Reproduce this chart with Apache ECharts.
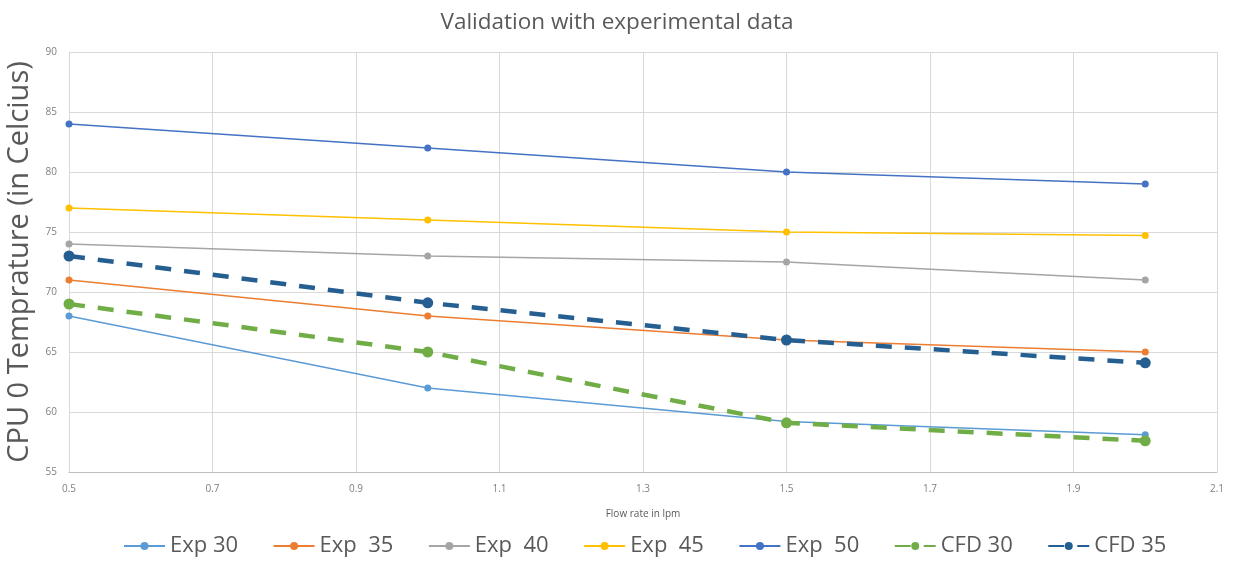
<!DOCTYPE html>
<html>
<head>
<meta charset="utf-8">
<script src="https://cdn.jsdelivr.net/npm/echarts@6/dist/echarts.min.js"></script>
<style>
html,body{margin:0;padding:0;background:#fff;}
#c{width:1233px;height:564px;}
</style>
</head>
<body>
<div id="c"></div>
<script>
const flowRates = [0.5, 1.0, 1.5, 2.0];
const exp30 = [68, 62, 59.2, 58.1];
const exp35 = [71, 68, 66, 65];
const exp40 = [74, 73, 72.5, 71];
const exp45 = [77, 76, 75, 74.7];
const exp50 = [84, 82, 80, 79];
const cfd30 = [69, 65, 59.1, 57.6];
const cfd35 = [73, 69.1, 66, 64.1];
const seriesNames = ['Exp 30', 'Exp  35', 'Exp  40', 'Exp  45', 'Exp  50', 'CFD 30', 'CFD 35'];
const seriesColors = ['#5B9BD5', '#ED7D31', '#A5A5A5', '#FFC000', '#4472C4', '#70AD47', '#255E91'];
const seriesValues = [exp30, exp35, exp40, exp45, exp50, cfd30, cfd35];

const font = 'Open Sans';
const series = seriesValues.map((vals, i) => {
  const isCfd = i >= 5;
  return {
    name: seriesNames[i],
    type: 'line',
    data: flowRates.map((x, j) => [x, vals[j]]),
    symbol: 'circle',
    symbolSize: isCfd ? 11 : 7,
    itemStyle: { color: seriesColors[i] },
    lineStyle: {
      color: seriesColors[i],
      width: isCfd ? 4.5 : 1.5,
      type: isCfd ? [16, 13] : 'solid'
    },
    z: isCfd ? 3 : 2
  };
});

const chart = echarts.init(document.getElementById('c'), null, { renderer: 'canvas' });
chart.setOption({
  animation: false,
  backgroundColor: '#fff',
  title: {
    text: 'Validation with experimental data',
    left: 612, top: 6, textAlign: 'center',
    textStyle: { fontFamily: font, fontSize: 22.5, fontWeight: 'normal', color: '#595959' }
  },
  grid: { left: 69, right: 16, top: 52, bottom: 92, containLabel: false, outerBoundsMode: 'none' },
  legend: {
    bottom: 2, left: 118,
    itemWidth: 41, itemHeight: 10, itemGap: 34.5,
    textStyle: { fontFamily: font, fontSize: 22, color: '#595959' },
    data: seriesNames
  },
  xAxis: {
    type: 'value', min: 0.5, max: 2.1, interval: 0.2,
    name: 'Flow rate in lpm', nameLocation: 'middle', nameGap: 37,
    nameTextStyle: { fontFamily: font, fontSize: 10, color: '#595959' },
    axisLine: { show: true, lineStyle: { color: '#bfbfbf' } },
    axisTick: { show: false },
    axisLabel: { fontFamily: font, fontSize: 10, color: '#7f7f7f', margin: 12,
      formatter: v => String(Math.round(v * 10) / 10) },
    splitLine: { show: true, lineStyle: { color: '#d9d9d9' } }
  },
  yAxis: {
    type: 'value', min: 55, max: 90, interval: 5,
    name: 'CPU 0 Temprature (in Celcius)', nameLocation: 'middle', nameGap: 33,
    nameTextStyle: { fontFamily: font, fontSize: 29, color: '#595959' },
    axisLine: { show: false },
    axisTick: { show: false },
    axisLabel: { fontFamily: font, fontSize: 10, color: '#7f7f7f', margin: 12 },
    splitLine: { show: true, lineStyle: { color: '#d9d9d9' } }
  },
  series: series
});
</script>
</body>
</html>
